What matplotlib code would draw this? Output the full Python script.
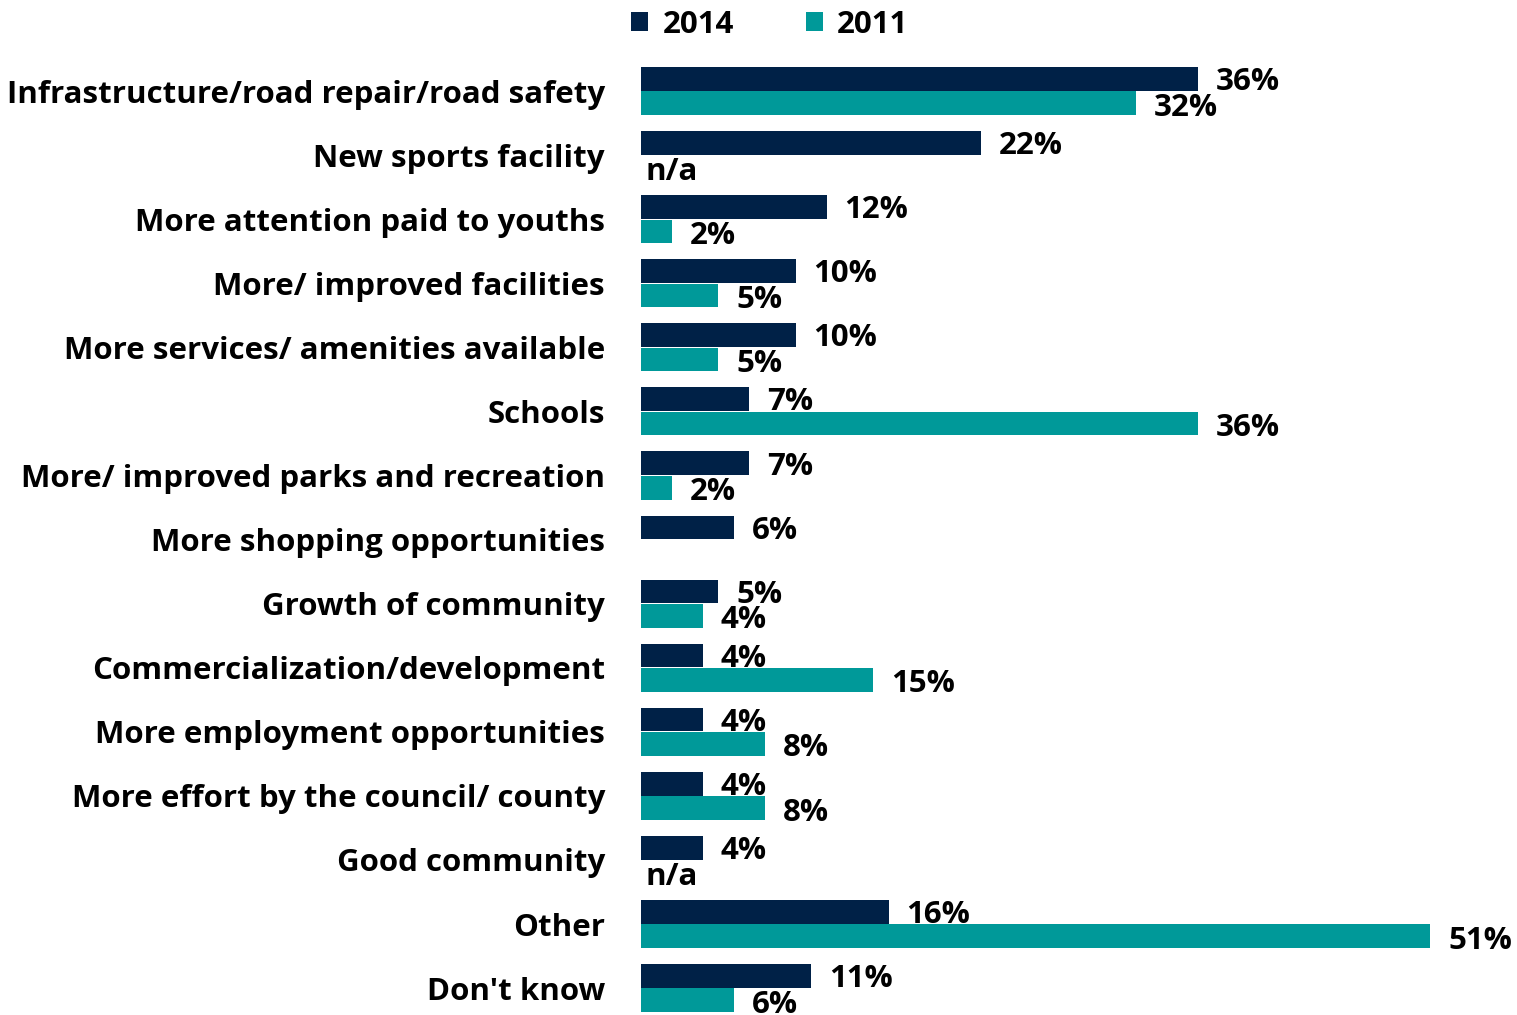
import matplotlib.pyplot as plt
import numpy as np

categories = [
    "Infrastructure/road repair/road safety",
    "New sports facility",
    "More attention paid to youths",
    "More/ improved facilities",
    "More services/ amenities available",
    "Schools",
    "More/ improved parks and recreation",
    "More shopping opportunities",
    "Growth of community",
    "Commercialization/development",
    "More employment opportunities",
    "More effort by the council/ county",
    "Good community",
    "Other",
    "Don't know",
]
vals_2014 = [36, 22, 12, 10, 10, 7, 7, 6, 5, 4, 4, 4, 4, 16, 11]
# None = n/a, 0 = no bar and no label
vals_2011 = [32, None, 2, 5, 5, 36, 2, 0, 4, 15, 8, 8, None, 51, 6]

navy = "#002147"
teal = "#009999"
font = "Open Sans"
fs = 22.5

fig = plt.figure(figsize=(15.17, 10.15), dpi=100)
ax = fig.add_axes([641 / 1517, 0, 1 - 641 / 1517, (1015 - 59) / 1015])

y = np.arange(len(categories))
h = 0.37
off = 0.19

v11 = [v if v is not None else 0 for v in vals_2011]
b14 = ax.barh(y - off, vals_2014, height=h, color=navy, label="2014")
b11 = ax.barh(y + off, v11, height=h, color=teal, label="2011")

for i, v in enumerate(vals_2014):
    ax.text(v + 1.15, i - off + 0.05, f"{v}%", va="center", ha="left",
            fontsize=fs, fontweight="bold", family=font)
for i, v in enumerate(vals_2011):
    if v is None:
        ax.text(0.3, i + off + 0.07, "n/a", va="center", ha="left",
                fontsize=fs, fontweight="bold", family=font)
    elif v > 0:
        ax.text(v + 1.15, i + off + 0.07, f"{v}%", va="center", ha="left",
                fontsize=fs, fontweight="bold", family=font)

ax.set_yticks(y)
ax.set_yticklabels(categories, fontsize=fs, fontweight="bold", family=font)
ax.tick_params(axis="y", length=0, pad=26)
ax.set_xticks([])
ax.set_xlim(0, 56.6)
ax.set_ylim(14.42, -0.5)
for s in ax.spines.values():
    s.set_visible(False)

leg = fig.legend(handles=[b14, b11], labels=["2014", "2011"], ncol=2,
                 loc="upper left", bbox_to_anchor=(603 / 1517, 1.018),
                 frameon=False, handlelength=0.55, handleheight=0.55,
                 handletextpad=0.45, columnspacing=2.3,
                 prop={"family": font, "weight": "bold", "size": fs})

fig.savefig("out.png", dpi=100)
